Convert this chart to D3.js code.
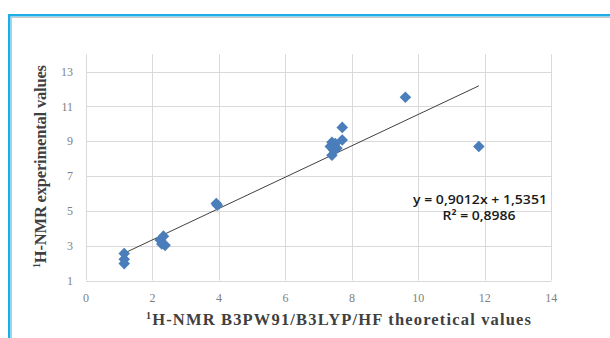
<!DOCTYPE html>
<html><head><meta charset="utf-8">
<script src="https://cdn.jsdelivr.net/npm/d3@7"></script>
<style>html,body{margin:0;padding:0;background:#fff;}svg{display:block;}</style>
</head><body>
<svg id="c" width="610" height="338"></svg>
<script>
// Data
const xVals = [1.15,1.15,1.15, 2.33,2.23,2.28,2.38, 3.92,3.95, 7.4,7.5,7.35,7.55,7.45,7.4, 7.71,7.71, 9.61, 11.82];
const yVals = [2.55,2.22,1.97, 3.55,3.33,3.1,3.02, 5.42,5.32, 8.95,8.87,8.7,8.6,8.5,8.2, 9.8,9.08, 11.53, 8.7];
const xTicks = [0,2,4,6,8,10,12,14];
const yTicks = [1,3,5,7,9,11,13];
const slope = 0.9012, intercept = 1.5351;
const eqLines = ["y = 0,9012x + 1,5351", "R² = 0,8986"];
const xTitle = "H-NMR B3PW91/B3LYP/HF theoretical values";
const yTitle = "H-NMR experimental values";

const svg = d3.select("#c");
// border
svg.append("rect").attr("x",9.25).attr("y",15.25).attr("width",640).attr("height",360)
  .attr("fill","none").attr("stroke","#1eaee6").attr("stroke-width",2.5);
svg.append("rect").attr("x",11.5).attr("y",17.5).attr("width",640).attr("height",360)
  .attr("fill","none").attr("stroke","#c8c8c8").attr("stroke-width",1);

const x = d3.scaleLinear().domain([0,14]).range([86,551.3]);
const y = d3.scaleLinear().domain([1,14]).range([280.5,54.3]);

const g = svg.append("g");
// gridlines
g.selectAll("line.v").data(xTicks).enter().append("line")
  .attr("x1",d=>Math.round(x(d))+0.5).attr("x2",d=>Math.round(x(d))+0.5)
  .attr("y1",y(14)).attr("y2",y(1))
  .attr("stroke","#d9d9d9").attr("stroke-width",1);
g.selectAll("line.h").data(yTicks).enter().append("line")
  .attr("x1",x(0)).attr("x2",x(14))
  .attr("y1",d=>Math.round(y(d))+0.5).attr("y2",d=>Math.round(y(d))+0.5)
  .attr("stroke","#d9d9d9").attr("stroke-width",1);

// tick labels
g.selectAll("text.xt").data(xTicks).enter().append("text")
  .attr("x",d=>x(d)).attr("y",302).attr("text-anchor","middle")
  .attr("font-family","Liberation Serif").attr("font-size",12).attr("fill","#7f7f7f")
  .text(d=>d);
g.selectAll("text.yt").data(yTicks).enter().append("text")
  .attr("x",73).attr("y",d=>y(d)+4).attr("text-anchor","end")
  .attr("font-family","Liberation Serif").attr("font-size",12).attr("fill","#7f7f7f")
  .text(d=>d);

// trendline
const xmin = d3.min(xVals), xmax = d3.max(xVals);
g.append("line").attr("x1",x(xmin)).attr("y1",y(slope*xmin+intercept))
  .attr("x2",x(xmax)).attr("y2",y(slope*xmax+intercept))
  .attr("stroke","#404040").attr("stroke-width",1);

// markers
const pts = xVals.map((v,i)=>[v,yVals[i]]);
g.selectAll("path.pt").data(pts).enter().append("path")
  .attr("d", d3.symbol().type(d3.symbolDiamond2).size(85)())
  .attr("transform",d=>`translate(${x(d[0])},${y(d[1])})`)
  .attr("fill","#4a7ebb");

// equation
g.append("text").attr("x",480).attr("y",204).attr("text-anchor","middle")
  .attr("font-family","Open Sans").attr("font-size",12.5).attr("font-weight",600).attr("fill","#1a1a1a")
  .attr("textLength",134).attr("lengthAdjust","spacingAndGlyphs").text(eqLines[0]);
g.append("text").attr("x",479).attr("y",220).attr("text-anchor","middle")
  .attr("font-family","Open Sans").attr("font-size",12.5).attr("font-weight",600).attr("fill","#1a1a1a")
  .attr("textLength",73).attr("lengthAdjust","spacingAndGlyphs").text(eqLines[1]);

// axis titles
const xt = svg.append("text").attr("x",146).attr("y",325)
  .attr("font-family","Liberation Serif").attr("font-weight","bold").attr("font-size",16.5).attr("fill","#404040")
  .attr("textLength",385).attr("lengthAdjust","spacing");
xt.append("tspan").attr("font-size",10).attr("dy",-6).text("1");
xt.append("tspan").attr("dy",6).text(xTitle);

const yt = svg.append("text").attr("transform","translate(46,268) rotate(-90)")
  .attr("font-family","Liberation Serif").attr("font-weight","bold").attr("font-size",16.5).attr("fill","#404040")
  .attr("textLength",203).attr("lengthAdjust","spacing");
yt.append("tspan").attr("font-size",10).attr("dy",-6).text("1");
yt.append("tspan").attr("dy",6).text(yTitle);
</script>
</body></html>
